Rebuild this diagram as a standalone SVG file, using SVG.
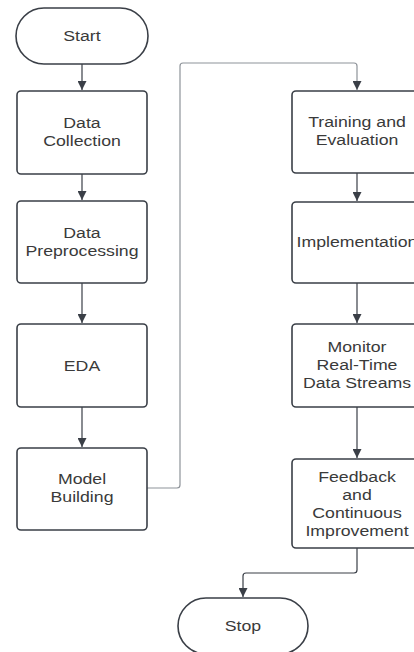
<svg xmlns="http://www.w3.org/2000/svg" width="414" height="652" viewBox="0 0 414 652">
<style>
.box{fill:#ffffff;stroke:#3a3f47;stroke-width:1.6}
.t{font-family:"Liberation Sans",Arial,sans-serif;font-size:15px;fill:#3a3a3a;text-anchor:middle}
.c{fill:none;stroke:#3a3f47;stroke-width:1.2}
.c2{fill:none;stroke:#8e9399;stroke-width:1.2}
</style>
<defs>
<marker id="ah" viewBox="0 0 10 10" refX="10" refY="5" markerWidth="9" markerHeight="9" markerUnits="userSpaceOnUse" orient="auto">
<path d="M0,0 L10,5 L0,10 z" fill="#3a3f47"/>
</marker>
</defs>
<rect width="414" height="652" fill="#ffffff"/>
<g id="connectors">
<path class="c" d="M82,64 V90" marker-end="url(#ah)"/>
<path class="c" d="M82,174 V200" marker-end="url(#ah)"/>
<path class="c" d="M82,283 V323" marker-end="url(#ah)"/>
<path class="c" d="M82,407 V447" marker-end="url(#ah)"/>
<path class="c2" d="M147,488 H177 Q180,488 180,485 V66 Q180,63 183,63 H354 Q357,63 357,66 V90" marker-end="url(#ah)"/>
<path class="c" d="M357,173 V201" marker-end="url(#ah)"/>
<path class="c" d="M357,283 V323" marker-end="url(#ah)"/>
<path class="c" d="M357,407 V458" marker-end="url(#ah)"/>
<path class="c" d="M357,548 V570 Q357,573 354,573 H246 Q243,573 243,576 V597" marker-end="url(#ah)"/>
</g>
<g id="start">
<rect class="box" x="16" y="8" width="132" height="56" rx="28"/>
<text class="t" transform="translate(82,40.5) scale(1.18,1)">Start</text>
</g>
<g id="data-collection">
<rect class="box" x="17" y="91" width="130" height="83" rx="4"/>
<text class="t" transform="translate(82,127.5) scale(1.18,1)">Data</text>
<text class="t" transform="translate(82,145.5) scale(1.18,1)">Collection</text>
</g>
<g id="data-preprocessing">
<rect class="box" x="17" y="201" width="130" height="82" rx="4"/>
<text class="t" transform="translate(82,237.5) scale(1.18,1)">Data</text>
<text class="t" transform="translate(82,255.5) scale(1.18,1)">Preprocessing</text>
</g>
<g id="eda">
<rect class="box" x="17" y="324" width="130" height="83" rx="4"/>
<text class="t" transform="translate(82,371) scale(1.18,1)">EDA</text>
</g>
<g id="model-building">
<rect class="box" x="17" y="448" width="130" height="82" rx="4"/>
<text class="t" transform="translate(82,483.5) scale(1.18,1)">Model</text>
<text class="t" transform="translate(82,502) scale(1.18,1)">Building</text>
</g>
<g id="training-evaluation">
<rect class="box" x="292" y="91" width="130" height="82" rx="4"/>
<text class="t" transform="translate(357,127) scale(1.18,1)">Training and</text>
<text class="t" transform="translate(357,145) scale(1.18,1)">Evaluation</text>
</g>
<g id="implementation">
<rect class="box" x="292" y="202" width="130" height="81" rx="4"/>
<text class="t" transform="translate(357,247) scale(1.18,1)">Implementation</text>
</g>
<g id="monitor">
<rect class="box" x="292" y="324" width="130" height="83" rx="4"/>
<text class="t" transform="translate(357,351.5) scale(1.18,1)">Monitor</text>
<text class="t" transform="translate(357,369.5) scale(1.18,1)">Real-Time</text>
<text class="t" transform="translate(357,388) scale(1.18,1)">Data Streams</text>
</g>
<g id="feedback">
<rect class="box" x="292" y="459" width="130" height="89" rx="4"/>
<text class="t" transform="translate(357,481.5) scale(1.18,1)">Feedback</text>
<text class="t" transform="translate(357,500) scale(1.18,1)">and</text>
<text class="t" transform="translate(357,518) scale(1.18,1)">Continuous</text>
<text class="t" transform="translate(357,536) scale(1.18,1)">Improvement</text>
</g>
<g id="stop">
<rect class="box" x="178" y="598" width="130" height="56" rx="28"/>
<text class="t" transform="translate(243,630.5) scale(1.18,1)">Stop</text>
</g>
</svg>
